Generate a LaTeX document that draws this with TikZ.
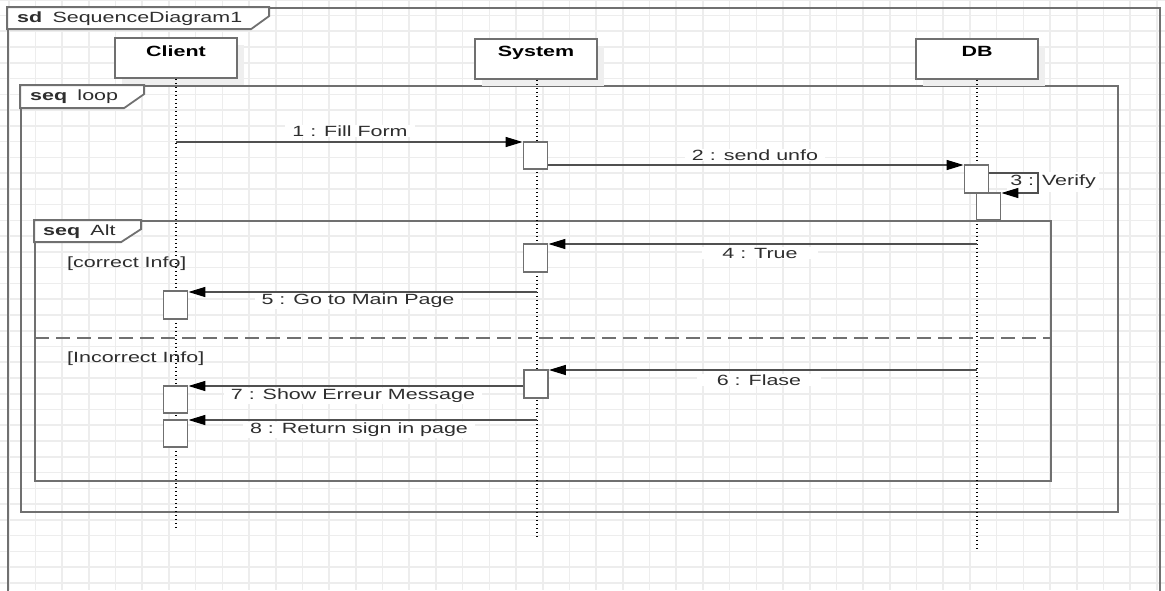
\documentclass[tikz,border=0pt]{standalone}
\usepackage{fontspec}
\setmainfont{Liberation Sans}
\usepackage{graphicx}
\usetikzlibrary{arrows.meta}
\newcommand\wtx[1]{\scalebox{1.45}[1]{#1}}
\definecolor{gridc}{HTML}{EDEDED}
\definecolor{framec}{HTML}{707070}
\definecolor{msgc}{HTML}{505050}
\definecolor{txtc}{HTML}{2E2E2E}
\definecolor{shadowc}{HTML}{EFEFEF}
\tikzset{
  every node/.style={font=\fontsize{14.8}{17}\selectfont, text=txtc},
  gridline/.style={draw=gridc, line width=1.6pt},
  frame/.style={draw=framec, line width=1.8pt, inner sep=0pt},
  tagshape/.style={draw=framec, line width=1.8pt, fill=white},
  head/.style={draw=framec, line width=1.8pt, fill=white, minimum width=122pt, minimum height=40pt, inner sep=0pt},
  headshadow/.style={fill=shadowc, draw=none, minimum width=122pt, minimum height=40pt, inner sep=0pt},
  act/.style={draw=framec, line width=1.8pt, fill=white, minimum width=24pt, inner sep=0pt},
  life/.style={draw=black, line width=1.3pt, dash pattern=on 1.5pt off 2.5pt},
  msg/.style={draw=msgc, line width=1.4pt, -{Triangle[length=17pt,width=10pt,color=black]}},
  lbl/.style={fill=white, inner xsep=7pt, inner ysep=1pt},
  guard/.style={anchor=west, inner sep=0pt},
  sepline/.style={draw=framec, line width=1.5pt, dash pattern=on 14pt off 7pt},
}
\begin{document}
\begin{tikzpicture}[x=1pt,y=-1pt]
\path[use as bounding box] (0,0) rectangle (1165,590);
\clip (0,0) rectangle (1165,590);
\fill[white] (0,0) rectangle (1165,590);
% grid
\foreach \k in {0,...,43} { \draw[gridline] (8.7+26.7*\k,0) -- (8.7+26.7*\k,590); }
\foreach \k in {-1,...,37} { \draw[gridline] (0,15.5+15.76*\k) -- (1165,15.5+15.76*\k); }

% frames
\node[frame, minimum width=1152pt, minimum height=612pt] (sd) at (584,314) {};
\node[frame, minimum width=1097pt, minimum height=426pt] (loop) at (569.5,299) {};
\node[frame, minimum width=1016pt, minimum height=260pt] (alt) at (543,351) {};

% lifeline heads
\node[headshadow] at (183,65) {};
\node[headshadow] at (543,66) {};
\node[headshadow] at (984,66) {};
\node[head, label={[anchor=north, yshift=-5pt, font=\fontsize{14.8}{17}\selectfont\bfseries, text=black]north:\wtx{Client}}] (client) at (176,58) {};
\node[head, label={[anchor=north, yshift=-5pt, font=\fontsize{14.8}{17}\selectfont\bfseries, text=black]north:\wtx{System}}] (system) at (536,59) {};
\node[head, label={[anchor=north, yshift=-5pt, font=\fontsize{14.8}{17}\selectfont\bfseries, text=black]north:\wtx{DB}}] (db) at (977,59) {};

% lifeline ends
\coordinate (clientend) at (176,527);
\coordinate (systemend) at (537,536);
\coordinate (dbend) at (977,550);
\draw[life] (client.south -| clientend) -- (clientend);
\draw[life] (system.south -| systemend) -- (systemend);
\draw[life] (db.south -| dbend) -- (dbend);

% tags
\draw[tagshape] (sd.north west) -- ++(262,0) -- ++(0,9) -- ++(-18,13) -- ++(-244,0) -- cycle;
\node[anchor=west, inner sep=0pt] (sdtxt) at (17,19) {\wtx{\textbf{sd}\hspace{3pt} SequenceDiagram1}};
\draw[tagshape] (loop.north west) -- ++(124,0) -- ++(0,9) -- ++(-20,14) -- ++(-104,0) -- cycle;
\node[anchor=west, inner sep=0pt] (looptxt) at (30,97) {\wtx{\textbf{seq}\hspace{3pt} loop}};
\draw[tagshape] (alt.north west) -- ++(107,0) -- ++(0,9) -- ++(-20,13) -- ++(-87,0) -- cycle;
\node[anchor=west, inner sep=0pt] (alttxt) at (43,232) {\wtx{\textbf{seq}\hspace{3pt} Alt}};

% separator
\coordinate (sepl) at (35,338);
\coordinate (sepr) at (1051,338);
\draw[sepline] (sepl) -- (sepr);

% guards
\node[guard] (g1) at (67,264) {\wtx{[correct Info]}};
\node[guard] (g2) at (67,359) {\wtx{[Incorrect Info]}};

% activations
\node[act, minimum height=27pt] (S1) at (535.5,155.5) {};
\node[act, minimum height=28pt] (D1) at (976.5,179) {};
\node[act, minimum height=27pt] (D2) at (988.5,206.5) {};
\node[act, minimum height=28pt] (S2) at (535.5,258) {};
\node[act, minimum height=28pt] (C1) at (175.5,305) {};
\node[act, minimum height=28pt] (S3) at (536,384) {};
\node[act, minimum height=27pt] (C2) at (175.5,399.5) {};
\node[act, minimum height=27pt] (C3) at (175.5,433.5) {};

% lifeline points
\coordinate (c1) at (176,142);
\coordinate (d4) at (977,244);
\coordinate (s5) at (537,292);
\coordinate (d6) at (977,370);
\coordinate (s7) at (523,386);
\coordinate (s8) at (537,420);
\coordinate (v1) at (1038,173);
\coordinate (v2) at (1038,193);

% labels
\node[lbl] (l1) at (350,131) {\wtx{1 : Fill Form}};
\node[lbl] (l2) at (755,155) {\wtx{2 : send unfo}};
\node[lbl, inner xsep=3pt, inner ysep=3pt] (l3) at (1053,182) {\wtx{3 : Verify}};
\node[lbl, inner xsep=20pt] (l4) at (760,253) {\wtx{4 : True}};
\node[lbl] (l5) at (358,301) {\wtx{5 : Go to Main Page}};
\node[lbl, inner xsep=20pt] (l6) at (759,380) {\wtx{6 : Flase}};
\node[lbl] (l7) at (353,396) {\wtx{7 : Show Erreur Message}};
\node[lbl] (l8) at (359,430) {\wtx{8 : Return sign in page}};

% messages
\draw[msg] (c1) -- (S1.west |- c1);
\draw[msg] (S1.east |- 0,165) -- (D1.west |- 0,165);
\draw[msg] (D1.east |- v1) -- (v1) -- (v2) -- (D2.east |- v2);
\draw[msg] (d4) -- (S2.east |- d4);
\draw[msg] (s5) -- (C1.east |- s5);
\draw[msg] (d6) -- (S3.east |- d6);
\draw[msg] (s7) -- (C2.east |- s7);
\draw[msg] (s8) -- (C3.east |- s8);
\end{tikzpicture}
\end{document}
